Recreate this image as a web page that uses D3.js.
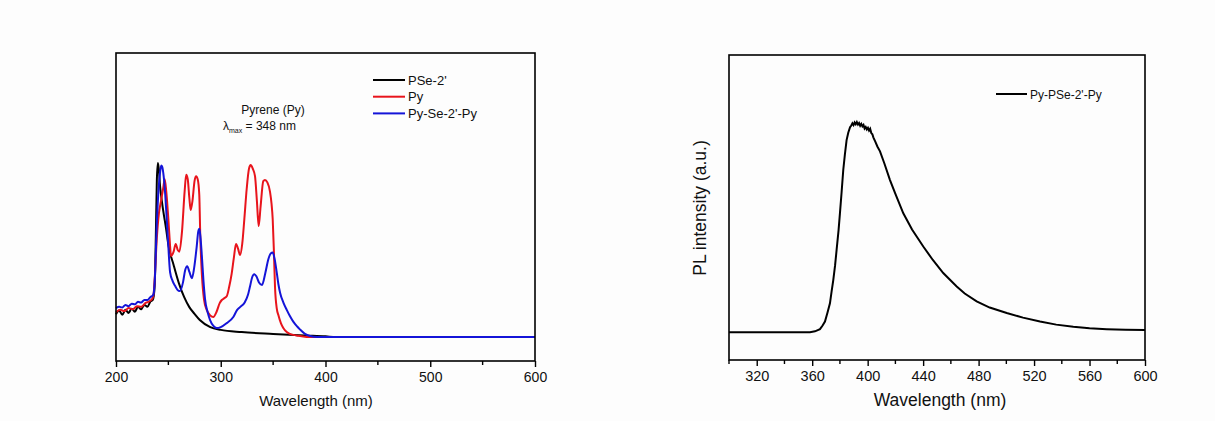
<!DOCTYPE html>
<html>
<head>
<meta charset="UTF-8">
<script src="https://cdn.jsdelivr.net/npm/d3@7"></script>
<style>
  body { margin: 0; background: #fff; }
  text { font-family: Arial, "Liberation Sans", sans-serif; fill: #111; }
  tspan { fill: #111; }
</style>
</head>
<body>
<div id="chart"></div>
<script>
// absorption spectra, left panel (wavelength nm, arbitrary units 0-100)
var psePts = [[200,15.2],[203,16.4],[206,15.0],[209,16.6],[212,15.6],[215,17.0],[218,16.0],[221,17.6],[224,16.8],[227,18.2],[230,17.6],[233,19.4],[235,19.8],[236,21],[237,25],[238,40],[239,58.8],[240,64.3],[241,62],[242,57],[243,53.9],[245,49],[248,42.5],[250,37.7],[255,31.2],[260,25.3],[265,20.8],[270,17.5],[275,15.3],[280,13.3],[290,11],[300,10.1],[320,9.4],[350,8.8],[380,8.3],[400,8.0],[410,7.8],[600,7.8]];
var pyPts = [[200,15.8],[204,16.6],[208,16.2],[212,17.2],[216,16.8],[220,17.8],[224,17.6],[228,18.8],[232,19.4],[235,20.4],[236,22],[237,27],[239,40],[241,48],[243,52],[245,56],[246.5,59],[248,55],[250,46],[251.5,38],[252.5,34],[255,35.5],[257,38],[259,36],[260.5,35.5],[263,42],[265.5,55],[267,60.5],[268.5,59],[270,53],[271.3,49],[273,52],[275,58.5],[276.5,60],[278,59],[279.5,54],[280.5,40],[282,28],[284,20],[286.6,16.6],[290,14.8],[292.9,14.3],[296,16],[299,18.8],[301,19.8],[303.5,20.4],[305.7,21],[308,24],[310.4,28.3],[312.5,33.5],[314.6,38],[316.5,36.5],[318.4,34.4],[320.5,38],[322.5,46],[324.8,56],[327,62.5],[328.6,63.6],[330.5,62.5],[332.7,60],[334.5,52],[336.2,43.8],[338,50],[340.6,58.4],[342.2,58.8],[344.5,58],[347,55],[348.5,51],[349.6,46],[350.7,36],[351.8,24],[353.5,17],[355,14.9],[357.5,12.2],[359.7,10.7],[363,9.4],[366,8.8],[372.4,8.3],[381.9,7.8],[400,7.8],[600,7.8]];
var pysePts = [[200,17.2],[203,17.6],[206,17.4],[209,18.2],[212,17.8],[215,18.6],[218,18.4],[221,19.2],[224,19.0],[227,19.8],[230,19.8],[233,20.8],[235,21.2],[236,22],[237,26],[239,45],[240.5,55],[242,61],[243.2,63.5],[244.2,63.0],[245.5,60],[247,54],[248.4,46.4],[250,37],[251.6,28.9],[254,26],[256.4,24.4],[258.5,23.2],[261,22.7],[264,25.6],[266,29.5],[268,30.8],[270,29],[272.5,26.9],[274.5,30],[277,37],[278.5,42],[279.6,42.9],[280.7,40],[281.8,35],[283.5,26],[285,20.1],[287.5,15.8],[289.8,13.3],[293,11.4],[296.1,10.7],[300,11],[305.7,12.3],[312,14.3],[315.5,16.5],[318.4,17.5],[323,19.1],[326,21.5],[327.8,24],[330,27.2],[332,28.2],[334,27.5],[336.5,25.5],[339.4,24.7],[342.5,28.5],[345.5,33.1],[347.7,34.9],[349.6,35.2],[351.5,33],[353.5,28.6],[355,25],[356.7,22.1],[360,18.8],[363,16.6],[366,14.6],[369.4,12.7],[373,11.2],[375.8,10.2],[380,8.9],[385.3,8.1],[392,7.8],[600,7.8]];

// photoluminescence, right panel
var plPts = [[300,9.1],[320,9.1],[340,9.1],[358.4,9.1],[362,9.4],[365.6,10.1],[367.5,11.3],[369.2,12.6],[371,15.5],[372.8,18.6],[374,22.5],[375.2,26.2],[376.5,31],[377.6,36.1],[379,42.5],[380,48.1],[381.2,55],[382.4,62.3],[383.6,67.5],[384.8,72.1],[386,74.5],[387.3,76.3],[388.2,76.9],[389,77.6],[389.8,77.0],[390.6,77.9],[391.4,77.3],[392.2,78.0],[393,77.2],[393.8,77.7],[394.6,76.8],[395.4,77.4],[396.2,76.6],[397,77.1],[397.8,75.9],[398.6,76.4],[399.4,75.6],[400.2,76.1],[401,75.2],[401.8,75.8],[402.6,74.4],[403.4,74.0],[404.1,73.0],[405.5,71.6],[407,70.0],[408.9,68.4],[412,64.5],[416.1,59.0],[420,54.5],[425.7,48.1],[432,42.8],[440.1,37.2],[447,32.8],[454.5,28.5],[464.2,24.1],[470,21.8],[478.6,19.2],[488,17.2],[500.3,15.4],[512,13.9],[524.3,12.6],[536,11.6],[548.3,10.9],[560,10.4],[572.4,10.1],[586,9.9],[600,9.8]];

var absSeries = [
  {name: "PSe-2'", color: "#000000", pts: psePts},
  {name: "Py", color: "#e8141c", pts: pyPts},
  {name: "Py-Se-2'-Py", color: "#1414d8", pts: pysePts}
];
var absTicks = [200, 300, 400, 500, 600];
var absMinor = [250, 350, 450, 550];
var plTicks = [320, 360, 400, 440, 480, 520, 560, 600];
var plMinor = [300, 340, 380, 420, 460, 500, 540, 580];

var svg = d3.select("#chart").append("svg").attr("width", 1215).attr("height", 421);
svg.append("rect").attr("width", 1215).attr("height", 421).attr("fill", "#fdfdfd");

function frame(g, x, y, w, h, major, minor, fs) {
  g.append("rect").attr("x", x).attr("y", y).attr("width", w).attr("height", h)
    .attr("fill", "none").attr("stroke", "#000").attr("stroke-width", 1.6);
  var ax = g.append("g").attr("transform", "translate(0," + (y + h) + ")");
  ax.call(d3.axisBottom(major.scale).tickValues(major.vals).tickSize(6).tickPadding(5).tickFormat(d3.format("d")));
  ax.select(".domain").remove();
  ax.selectAll("line").attr("stroke-width", 1.4);
  ax.selectAll("text").attr("font-size", fs).attr("font-family", "Arial, 'Liberation Sans', sans-serif").attr("fill", "#111");
  ax.selectAll(".minor").data(minor).enter().append("line")
    .attr("x1", function(d){ return major.scale(d); }).attr("x2", function(d){ return major.scale(d); })
    .attr("y1", 0).attr("y2", 4).attr("stroke", "#000").attr("stroke-width", 1.4);
}

// left panel
var xA = d3.scaleLinear().domain([200, 600]).range([116, 535]);
var yA = d3.scaleLinear().domain([0, 100]).range([361, 53]);
var gA = svg.append("g");
var lineA = d3.line().x(function(d){ return xA(d[0]); }).y(function(d){ return yA(d[1]); }).curve(d3.curveMonotoneX);
absSeries.forEach(function(s) {
  gA.append("path").attr("d", lineA(s.pts)).attr("fill", "none").attr("stroke", s.color).attr("stroke-width", 2);
});
frame(gA, 116, 53, 419, 308, {scale: xA, vals: absTicks}, absMinor, 14);
gA.append("text").attr("x", 316).attr("y", 406).attr("text-anchor", "middle").attr("font-size", 15).text("Wavelength (nm)");
absSeries.forEach(function(s, i) {
  var yy = 80 + i * 16.7;
  gA.append("line").attr("x1", 373).attr("x2", 405).attr("y1", yy).attr("y2", yy).attr("stroke", s.color).attr("stroke-width", 2);
  gA.append("text").attr("x", 408).attr("y", yy + 4.5).attr("font-size", 13).text(s.name);
});
gA.append("text").attr("x", 273).attr("y", 114).attr("text-anchor", "middle").attr("font-size", 12).text("Pyrene (Py)");
var lam = gA.append("text").attr("x", 223).attr("y", 130).attr("font-size", 12).attr("fill", "#111");
lam.append("tspan").text("λ");
lam.append("tspan").attr("font-size", 7).attr("dy", 3).text("max");
lam.append("tspan").attr("dy", -3).text(" = 348 nm");

// right panel
var xP = d3.scaleLinear().domain([300, 600]).range([729, 1145]);
var yP = d3.scaleLinear().domain([0, 100]).range([360, 55]);
var gP = svg.append("g");
var lineP = d3.line().x(function(d){ return xP(d[0]); }).y(function(d){ return yP(d[1]); });
gP.append("path").attr("d", lineP(plPts)).attr("fill", "none").attr("stroke", "#000").attr("stroke-width", 2);
frame(gP, 729, 55, 416, 305, {scale: xP, vals: plTicks}, plMinor, 14.5);
gP.append("text").attr("x", 940).attr("y", 406).attr("text-anchor", "middle").attr("font-size", 17.5).text("Wavelength (nm)");
gP.append("text").attr("transform", "translate(706,208) rotate(-90)").attr("text-anchor", "middle").attr("font-size", 17.5).text("PL intensity (a.u.)");
gP.append("line").attr("x1", 996).attr("x2", 1027).attr("y1", 94).attr("y2", 94).attr("stroke", "#000").attr("stroke-width", 2);
gP.append("text").attr("x", 1030).attr("y", 98.5).attr("font-size", 12).text("Py-PSe-2'-Py");
</script>
</body>
</html>
